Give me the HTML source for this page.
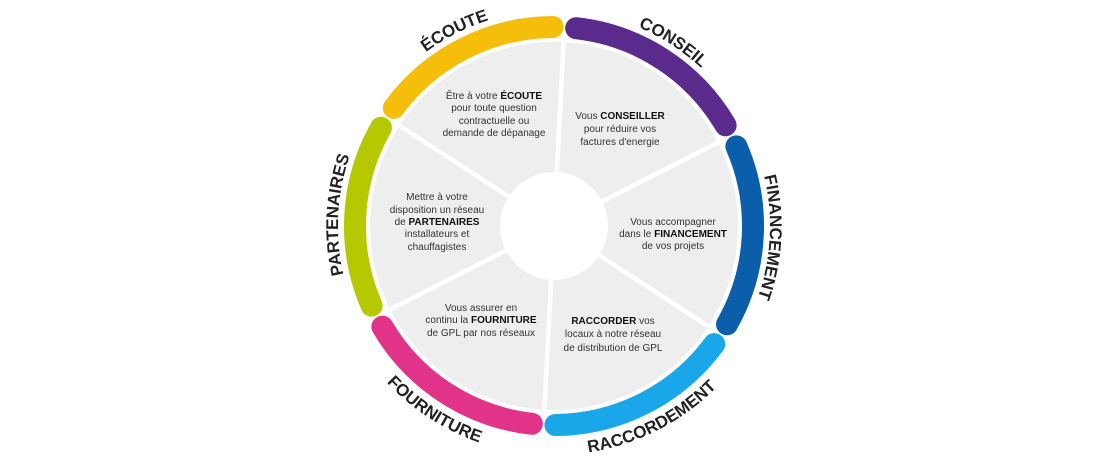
<!DOCTYPE html>
<html><head><meta charset="utf-8">
<style>
html,body{margin:0;padding:0;background:#fff;}
svg{display:block;}
.lab{font-family:"Liberation Sans Narrow","Liberation Sans",sans-serif;font-weight:bold;font-size:17px;fill:#222;}
.in{font-family:"Liberation Sans Narrow","Liberation Sans",sans-serif;font-size:10px;fill:#333;text-anchor:middle;}
.in tspan.b{font-weight:bold;fill:#111;}
</style></head>
<body>
<svg id="s" width="1108" height="462" viewBox="0 0 1108 462" xmlns="http://www.w3.org/2000/svg">
<g id="g" transform="translate(554,226)">
  <circle cx="0" cy="0" r="184" fill="#eeeeee"/>
  <g id="div"></g>
  <circle cx="0" cy="0" r="54" fill="#fff"/>
  <g id="ring"></g>
  <defs id="defs"></defs>
  <text class="lab"><textPath href="#p0" startOffset="50%" text-anchor="middle">ÉCOUTE</textPath></text>
  <text class="lab"><textPath href="#p1" startOffset="50%" text-anchor="middle">CONSEIL</textPath></text>
  <text class="lab"><textPath href="#p2" startOffset="50%" text-anchor="middle">FINANCEMENT</textPath></text>
  <text class="lab"><textPath href="#p3" startOffset="50%" text-anchor="middle">RACCORDEMENT</textPath></text>
  <text class="lab"><textPath href="#p4" startOffset="50%" text-anchor="middle">FOURNITURE</textPath></text>
  <text class="lab"><textPath href="#p5" startOffset="50%" text-anchor="middle">PARTENAIRES</textPath></text>
</g>
<text class="in" x="494" y="99">Être à votre <tspan class="b">ÉCOUTE</tspan></text>
<text class="in" x="494" y="111">pour toute question</text>
<text class="in" x="494" y="124">contractuelle ou</text>
<text class="in" x="494" y="136">demande de dépanage</text>

<text class="in" x="620" y="119"><tspan>Vous </tspan><tspan class="b">CONSEILLER</tspan></text>
<text class="in" x="620" y="132">pour réduire vos</text>
<text class="in" x="620" y="145">factures d'energie</text>

<text class="in" x="437" y="200">Mettre à votre</text>
<text class="in" x="437" y="213">disposition un réseau</text>
<text class="in" x="437" y="225">de <tspan class="b">PARTENAIRES</tspan></text>
<text class="in" x="437" y="237">installateurs et</text>
<text class="in" x="437" y="250">chauffagistes</text>

<text class="in" x="673" y="225">Vous accompagner</text>
<text class="in" x="673" y="237">dans le <tspan class="b">FINANCEMENT</tspan></text>
<text class="in" x="673" y="249">de vos projets</text>

<text class="in" x="481" y="311">Vous assurer en</text>
<text class="in" x="481" y="323">continu la <tspan class="b">FOURNITURE</tspan></text>
<text class="in" x="481" y="336">de GPL par nos réseaux</text>

<text class="in" x="613" y="324"><tspan class="b">RACCORDER</tspan> vos</text>
<text class="in" x="613" y="337">locaux à notre réseau</text>
<text class="in" x="613" y="351">de distribution de GPL</text>
</svg>
<script>
(function(){
var NS="http://www.w3.org/2000/svg";
function pt(r,a){a=a*Math.PI/180;return (r*Math.cos(a)).toFixed(2)+" "+(r*Math.sin(a)).toFixed(2);}
function arc(r,a1,a2,sw){return "M"+pt(r,a1)+" A"+r+" "+r+" 0 0 "+sw+" "+pt(r,a2);}
var b=[-147,-87,-27,33,93,153];
var cols=["#f5be0b","#5a2b8c","#0b5ea9","#1aa7ea","#e13489","#b6c900"];
var ring=document.getElementById("ring"),div=document.getElementById("div"),defs=document.getElementById("defs");
for(var i=0;i<6;i++){
  var a1=b[i]+3.4,a2=b[i]+60-3.4;
  var p=document.createElementNS(NS,"path");
  p.setAttribute("d",arc(199,a1,a2,1));
  p.setAttribute("fill","none");p.setAttribute("stroke",cols[i]);
  p.setAttribute("stroke-width","22");p.setAttribute("stroke-linecap","round");
  ring.appendChild(p);
  var l=document.createElementNS(NS,"line");
  var s=pt(50,b[i]).split(" "),e=pt(190,b[i]).split(" ");
  l.setAttribute("x1",s[0]);l.setAttribute("y1",s[1]);l.setAttribute("x2",e[0]);l.setAttribute("y2",e[1]);
  l.setAttribute("stroke","#fff");l.setAttribute("stroke-width","4.5");
  div.appendChild(l);
  var mid=b[i]+30;
  var tp=document.createElementNS(NS,"path");
  tp.setAttribute("id","p"+i);
  if(mid>60&&mid<150){tp.setAttribute("d",arc(229,mid+70,mid-70,0));}
  else{tp.setAttribute("d",arc(216,mid-70,mid+70,1));}
  defs.appendChild(tp);
}
})();
</script>
</body></html>
